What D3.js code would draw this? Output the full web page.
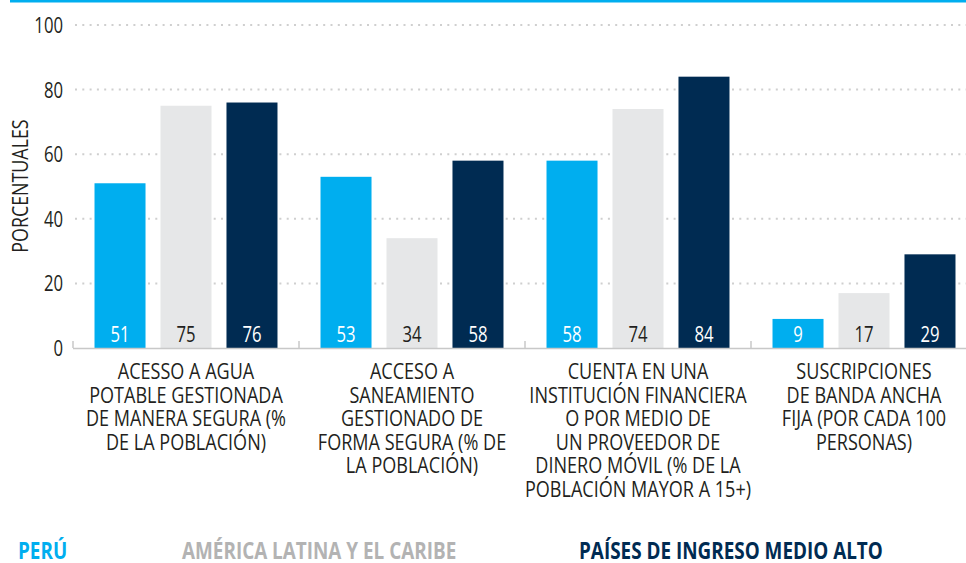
<!DOCTYPE html>
<html>
<head>
<meta charset="utf-8">
<script src="https://cdn.jsdelivr.net/npm/d3@7"></script>
<style>
  body { margin: 0; background: #fff; }
  svg { display: block; font-family: "Open Sans", "Noto Sans", sans-serif; }
</style>
</head>
<body>
<svg id="chart" width="966" height="563"></svg>
<script>
// data
const categories = ["agua", "saneamiento", "cuenta", "banda"];
const categoryLabels = [
    ["ACESSO A AGUA", "POTABLE GESTIONADA", "DE MANERA SEGURA (%", "DE LA POBLACIÓN)"],
    ["ACCESO A", "SANEAMIENTO", "GESTIONADO DE", "FORMA SEGURA (% DE", "LA POBLACIÓN)"],
    ["CUENTA EN UNA", "INSTITUCIÓN FINANCIERA", "O POR MEDIO DE", "UN PROVEEDOR DE", "DINERO MÓVIL (% DE LA", "POBLACIÓN MAYOR A 15+)"],
    ["SUSCRIPCIONES", "DE BANDA ANCHA", "FIJA (POR CADA 100", "PERSONAS)"]
];
const seriesNames = ["PERÚ", "AMÉRICA LATINA Y EL CARIBE", "PAÍSES DE INGRESO MEDIO ALTO"];
const peru = [51, 53, 58, 9];
const latam = [75, 34, 74, 17];
const ingresoMedioAlto = [76, 58, 84, 29];
const yTicks = [0, 20, 40, 60, 80, 100];
const yTitle = "PORCENTUALES";

const series = [peru, latam, ingresoMedioAlto];
const barColors = ["#00AEEF", "#E6E7E8", "#002B52"];
const valueColors = ["#ffffff", "#231F20", "#ffffff"];
const legendColors = ["#00AEEF", "#B3B3B3", "#002B52"];
// no condensed face installed, so squash a normal one
const squeeze = 0.76;
const labelSqueeze = 0.84;
const legendSqueeze = 0.84;

const svg = d3.select("#chart");

// top rule
svg.append("rect").attr("x", 10).attr("y", 0).attr("width", 956).attr("height", 2.5).attr("fill", "#00AEEF");

const x0 = d3.scaleBand().domain(categories).range([73, 977]);
const x1 = d3.scaleBand().domain(d3.range(series.length)).range([0, x0.bandwidth()])
    .paddingInner(0.227).paddingOuter(0.326);
const y = d3.scaleLinear().domain([0, 100]).range([348, 25]);

// dotted gridlines
svg.append("g")
    .selectAll("line")
    .data(yTicks.filter(d => d > 0))
    .enter()
    .append("line")
    .attr("x1", 75).attr("x2", 966)
    .attr("y1", d => y(d)).attr("y2", d => y(d))
    .attr("stroke", "#CFCFCF")
    .attr("stroke-width", 2)
    .attr("stroke-dasharray", "2 5.3");

// y tick labels
svg.append("g")
    .selectAll("g")
    .data(yTicks)
    .enter()
    .append("g")
    .attr("transform", d => `translate(63,${y(d) + 8}) scale(${squeeze},1)`)
    .append("text")
    .attr("text-anchor", "end")
    .attr("font-size", 22)
    .attr("fill", "#231F20")
    .text(d => d);

// y title
svg.append("g")
    .attr("transform", `translate(28,186) rotate(-90) scale(0.83,1)`)
    .append("text")
    .attr("text-anchor", "middle")
    .attr("font-size", 21.5)
    .attr("fill", "#231F20")
    .text(yTitle);

// bars
const groups = svg.append("g")
    .selectAll("g")
    .data(categories)
    .enter()
    .append("g")
    .attr("transform", d => `translate(${x0(d)},0)`);

groups.selectAll("rect")
    .data((d, i) => series.map((s, j) => ({ j: j, v: s[i] })))
    .enter()
    .append("rect")
    .attr("x", d => x1(d.j))
    .attr("y", d => y(d.v))
    .attr("width", x1.bandwidth())
    .attr("height", d => y(0) - y(d.v))
    .attr("fill", d => barColors[d.j]);

groups.selectAll("g.val")
    .data((d, i) => series.map((s, j) => ({ j: j, v: s[i] })))
    .enter()
    .append("g")
    .attr("class", "val")
    .attr("transform", d => `translate(${x1(d.j) + x1.bandwidth() / 2},${y(0) - 6}) scale(${squeeze},1)`)
    .append("text")
    .attr("text-anchor", "middle")
    .attr("font-size", 22)
    .attr("fill", d => valueColors[d.j])
    .text(d => d.v);

// baseline and ticks
svg.append("line")
    .attr("x1", 73).attr("x2", 966)
    .attr("y1", y(0) + 0.5).attr("y2", y(0) + 0.5)
    .attr("stroke", "#C8C8C8").attr("stroke-width", 1.5);

svg.append("g")
    .selectAll("line")
    .data(categories)
    .enter()
    .append("line")
    .attr("x1", d => x0(d)).attr("x2", d => x0(d))
    .attr("y1", y(0) - 7).attr("y2", y(0))
    .attr("stroke", "#C8C8C8").attr("stroke-width", 1.5);

// category labels
groups.each(function (d, i) {
    const g = d3.select(this);
    categoryLabels[i].forEach((line, k) => {
        g.append("g")
            .attr("transform", `translate(${x0.bandwidth() / 2},${379 + k * 23.5}) scale(${labelSqueeze},1)`)
            .append("text")
            .attr("text-anchor", "middle")
            .attr("font-size", 21.5)
            .attr("fill", "#231F20")
            .text(line);
    });
});

// legend
const legendX = [18, 182, 579];
svg.append("g")
    .selectAll("g")
    .data(seriesNames)
    .enter()
    .append("g")
    .attr("transform", (d, i) => `translate(${legendX[i]},559) scale(${legendSqueeze},1)`)
    .append("text")
    .attr("font-size", 22.5)
    .attr("font-weight", "bold")
    .attr("fill", (d, i) => legendColors[i])
    .text(d => d);
</script>
</body>
</html>
